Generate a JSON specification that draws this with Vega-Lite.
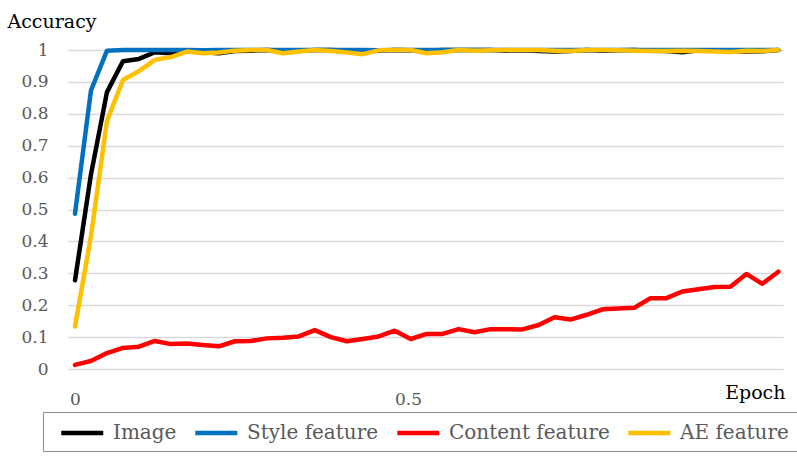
{
  "$schema": "https://vega.github.io/schema/vega-lite/v6.json",
  "width": 715,
  "height": 319,
  "autosize": {"type": "none"},
  "padding": {"left": 68, "top": 50, "right": 14, "bottom": 92},
  "background": "white",
  "config": {
    "view": {"stroke": null},
    "font": "DejaVu Serif"
  },
  "data": {
    "values": [
      {"e":0,"s":"Image","v":0.278},{"e":0.024,"s":"Image","v":0.61},{"e":0.048,"s":"Image","v":0.868},{"e":0.072,"s":"Image","v":0.965},{"e":0.096,"s":"Image","v":0.972},{"e":0.12,"s":"Image","v":0.993},{"e":0.144,"s":"Image","v":0.99},{"e":0.168,"s":"Image","v":0.995},{"e":0.192,"s":"Image","v":0.993},{"e":0.216,"s":"Image","v":0.99},{"e":0.24,"s":"Image","v":0.997},{"e":0.264,"s":"Image","v":0.998},{"e":0.288,"s":"Image","v":1},{"e":0.312,"s":"Image","v":0.998},{"e":0.336,"s":"Image","v":0.997},{"e":0.36,"s":"Image","v":1},{"e":0.384,"s":"Image","v":1},{"e":0.408,"s":"Image","v":0.998},{"e":0.432,"s":"Image","v":0.997},{"e":0.456,"s":"Image","v":0.998},{"e":0.48,"s":"Image","v":1},{"e":0.504,"s":"Image","v":0.999},{"e":0.528,"s":"Image","v":0.998},{"e":0.552,"s":"Image","v":1},{"e":0.576,"s":"Image","v":1},{"e":0.6,"s":"Image","v":1},{"e":0.624,"s":"Image","v":1},{"e":0.648,"s":"Image","v":0.998},{"e":0.672,"s":"Image","v":0.999},{"e":0.696,"s":"Image","v":0.997},{"e":0.72,"s":"Image","v":0.995},{"e":0.744,"s":"Image","v":0.997},{"e":0.768,"s":"Image","v":1},{"e":0.792,"s":"Image","v":0.998},{"e":0.816,"s":"Image","v":0.999},{"e":0.84,"s":"Image","v":1},{"e":0.864,"s":"Image","v":0.998},{"e":0.888,"s":"Image","v":0.997},{"e":0.912,"s":"Image","v":0.993},{"e":0.936,"s":"Image","v":0.999},{"e":0.96,"s":"Image","v":0.998},{"e":0.984,"s":"Image","v":0.997},{"e":1.008,"s":"Image","v":0.995},{"e":1.032,"s":"Image","v":0.996},{"e":1.056,"s":"Image","v":1},

      {"e":0,"s":"Style feature","v":0.487},{"e":0.024,"s":"Style feature","v":0.873},{"e":0.048,"s":"Style feature","v":0.998},{"e":0.072,"s":"Style feature","v":1},{"e":0.096,"s":"Style feature","v":1},{"e":0.12,"s":"Style feature","v":1},{"e":0.144,"s":"Style feature","v":1},{"e":0.168,"s":"Style feature","v":1},{"e":0.192,"s":"Style feature","v":0.999},{"e":0.216,"s":"Style feature","v":1},{"e":0.24,"s":"Style feature","v":1},{"e":0.264,"s":"Style feature","v":1},{"e":0.288,"s":"Style feature","v":1},{"e":0.312,"s":"Style feature","v":1},{"e":0.336,"s":"Style feature","v":1},{"e":0.36,"s":"Style feature","v":1},{"e":0.384,"s":"Style feature","v":1},{"e":0.408,"s":"Style feature","v":1},{"e":0.432,"s":"Style feature","v":1},{"e":0.456,"s":"Style feature","v":0.999},{"e":0.48,"s":"Style feature","v":1},{"e":0.504,"s":"Style feature","v":1},{"e":0.528,"s":"Style feature","v":1},{"e":0.552,"s":"Style feature","v":1},{"e":0.576,"s":"Style feature","v":1},{"e":0.6,"s":"Style feature","v":1},{"e":0.624,"s":"Style feature","v":1},{"e":0.648,"s":"Style feature","v":1},{"e":0.672,"s":"Style feature","v":1},{"e":0.696,"s":"Style feature","v":1},{"e":0.72,"s":"Style feature","v":1},{"e":0.744,"s":"Style feature","v":1},{"e":0.768,"s":"Style feature","v":1},{"e":0.792,"s":"Style feature","v":1},{"e":0.816,"s":"Style feature","v":1},{"e":0.84,"s":"Style feature","v":1},{"e":0.864,"s":"Style feature","v":1},{"e":0.888,"s":"Style feature","v":1},{"e":0.912,"s":"Style feature","v":1},{"e":0.936,"s":"Style feature","v":1},{"e":0.96,"s":"Style feature","v":1},{"e":0.984,"s":"Style feature","v":1},{"e":1.008,"s":"Style feature","v":1},{"e":1.032,"s":"Style feature","v":1},{"e":1.056,"s":"Style feature","v":1},

      {"e":0,"s":"Content feature","v":0.013},{"e":0.024,"s":"Content feature","v":0.025},{"e":0.048,"s":"Content feature","v":0.05},{"e":0.072,"s":"Content feature","v":0.066},{"e":0.096,"s":"Content feature","v":0.07},{"e":0.12,"s":"Content feature","v":0.088},{"e":0.144,"s":"Content feature","v":0.078},{"e":0.168,"s":"Content feature","v":0.08},{"e":0.192,"s":"Content feature","v":0.075},{"e":0.216,"s":"Content feature","v":0.071},{"e":0.24,"s":"Content feature","v":0.087},{"e":0.264,"s":"Content feature","v":0.088},{"e":0.288,"s":"Content feature","v":0.096},{"e":0.312,"s":"Content feature","v":0.098},{"e":0.336,"s":"Content feature","v":0.102},{"e":0.36,"s":"Content feature","v":0.122},{"e":0.384,"s":"Content feature","v":0.1},{"e":0.408,"s":"Content feature","v":0.087},{"e":0.432,"s":"Content feature","v":0.094},{"e":0.456,"s":"Content feature","v":0.102},{"e":0.48,"s":"Content feature","v":0.12},{"e":0.504,"s":"Content feature","v":0.094},{"e":0.528,"s":"Content feature","v":0.11},{"e":0.552,"s":"Content feature","v":0.11},{"e":0.576,"s":"Content feature","v":0.125},{"e":0.6,"s":"Content feature","v":0.115},{"e":0.624,"s":"Content feature","v":0.125},{"e":0.648,"s":"Content feature","v":0.125},{"e":0.672,"s":"Content feature","v":0.124},{"e":0.696,"s":"Content feature","v":0.138},{"e":0.72,"s":"Content feature","v":0.162},{"e":0.744,"s":"Content feature","v":0.155},{"e":0.768,"s":"Content feature","v":0.17},{"e":0.792,"s":"Content feature","v":0.187},{"e":0.816,"s":"Content feature","v":0.19},{"e":0.84,"s":"Content feature","v":0.192},{"e":0.864,"s":"Content feature","v":0.222},{"e":0.888,"s":"Content feature","v":0.222},{"e":0.912,"s":"Content feature","v":0.243},{"e":0.936,"s":"Content feature","v":0.25},{"e":0.96,"s":"Content feature","v":0.257},{"e":0.984,"s":"Content feature","v":0.258},{"e":1.008,"s":"Content feature","v":0.298},{"e":1.032,"s":"Content feature","v":0.267},{"e":1.056,"s":"Content feature","v":0.305},

      {"e":0,"s":"AE feature","v":0.133},{"e":0.024,"s":"AE feature","v":0.417},{"e":0.048,"s":"AE feature","v":0.778},{"e":0.072,"s":"AE feature","v":0.906},{"e":0.096,"s":"AE feature","v":0.934},{"e":0.12,"s":"AE feature","v":0.969},{"e":0.144,"s":"AE feature","v":0.978},{"e":0.168,"s":"AE feature","v":0.995},{"e":0.192,"s":"AE feature","v":0.99},{"e":0.216,"s":"AE feature","v":0.992},{"e":0.24,"s":"AE feature","v":0.998},{"e":0.264,"s":"AE feature","v":1},{"e":0.288,"s":"AE feature","v":1},{"e":0.312,"s":"AE feature","v":0.99},{"e":0.336,"s":"AE feature","v":0.995},{"e":0.36,"s":"AE feature","v":1},{"e":0.384,"s":"AE feature","v":0.997},{"e":0.408,"s":"AE feature","v":0.992},{"e":0.432,"s":"AE feature","v":0.987},{"e":0.456,"s":"AE feature","v":0.999},{"e":0.48,"s":"AE feature","v":1},{"e":0.504,"s":"AE feature","v":1},{"e":0.528,"s":"AE feature","v":0.99},{"e":0.552,"s":"AE feature","v":0.993},{"e":0.576,"s":"AE feature","v":1},{"e":0.6,"s":"AE feature","v":0.998},{"e":0.624,"s":"AE feature","v":0.999},{"e":0.648,"s":"AE feature","v":1},{"e":0.672,"s":"AE feature","v":1},{"e":0.696,"s":"AE feature","v":1},{"e":0.72,"s":"AE feature","v":0.998},{"e":0.744,"s":"AE feature","v":0.997},{"e":0.768,"s":"AE feature","v":1},{"e":0.792,"s":"AE feature","v":1},{"e":0.816,"s":"AE feature","v":0.999},{"e":0.84,"s":"AE feature","v":0.998},{"e":0.864,"s":"AE feature","v":0.997},{"e":0.888,"s":"AE feature","v":0.997},{"e":0.912,"s":"AE feature","v":0.998},{"e":0.936,"s":"AE feature","v":0.997},{"e":0.96,"s":"AE feature","v":0.995},{"e":0.984,"s":"AE feature","v":0.994},{"e":1.008,"s":"AE feature","v":0.998},{"e":1.032,"s":"AE feature","v":0.997},{"e":1.056,"s":"AE feature","v":1}
    ]
  },
  "mark": {"type": "line", "strokeWidth": 4.5, "strokeJoin": "round", "strokeCap": "round", "clip": false},
  "encoding": {
    "x": {
      "field": "e",
      "type": "quantitative",
      "scale": {"domain": [-0.0105, 1.063], "nice": false, "zero": false},
      "axis": {
        "values": [0, 0.5],
        "format": "~g",
        "grid": false,
        "ticks": false,
        "domain": false,
        "labelFont": "DejaVu Serif",
        "labelFontSize": 17,
        "labelColor": "#595959",
        "labelPadding": 22,
        "title": "Epoch",
        "titleFont": "DejaVu Serif",
        "titleFontSize": 19,
        "titleFontWeight": "normal",
        "titleColor": "#000000",
        "titleAlign": "right",
        "titleAnchor": null,
        "titleBaseline": "alphabetic",
        "titleX": 717,
        "titleY": 29
      }
    },
    "y": {
      "field": "v",
      "type": "quantitative",
      "scale": {"domain": [0, 1], "nice": false},
      "axis": {
        "values": [0, 0.1, 0.2, 0.3, 0.4, 0.5, 0.6, 0.7, 0.8, 0.9, 1],
        "format": ".1~f",
        "grid": true,
        "gridColor": "#d9d9d9",
        "gridWidth": 1.5,
        "ticks": false,
        "domain": false,
        "labelFont": "DejaVu Serif",
        "labelFontSize": 17,
        "labelColor": "#595959",
        "labelPadding": 20,
        "title": "Accuracy",
        "titleFont": "DejaVu Serif",
        "titleFontSize": 19,
        "titleFontWeight": "normal",
        "titleColor": "#000000",
        "titleAngle": 0,
        "titleAlign": "left",
        "titleAnchor": null,
        "titleBaseline": "alphabetic",
        "titleX": -61,
        "titleY": -23
      }
    },
    "color": {
      "field": "s",
      "type": "nominal",
      "sort": null,
      "scale": {
        "domain": ["Image", "Style feature", "Content feature", "AE feature"],
        "range": ["#000000", "#0070C0", "#FF0000", "#FFC000"]
      },
      "legend": {
        "title": null,
        "orient": "none",
        "legendX": -25,
        "legendY": 362,
        "direction": "horizontal",
        "strokeColor": "#8c8c8c",
        "fillColor": "#ffffff",
        "padding": 8,
        "symbolType": "M-0.26,0H3.74",
        "symbolStrokeWidth": 4.5,
        "symbolSize": 441,
        "labelFont": "DejaVu Serif",
        "labelFontSize": 20,
        "labelColor": "#595959",
        "labelOffset": 36,
        "labelLimit": 400,
        "columnPadding": 8
      }
    }
  }
}
